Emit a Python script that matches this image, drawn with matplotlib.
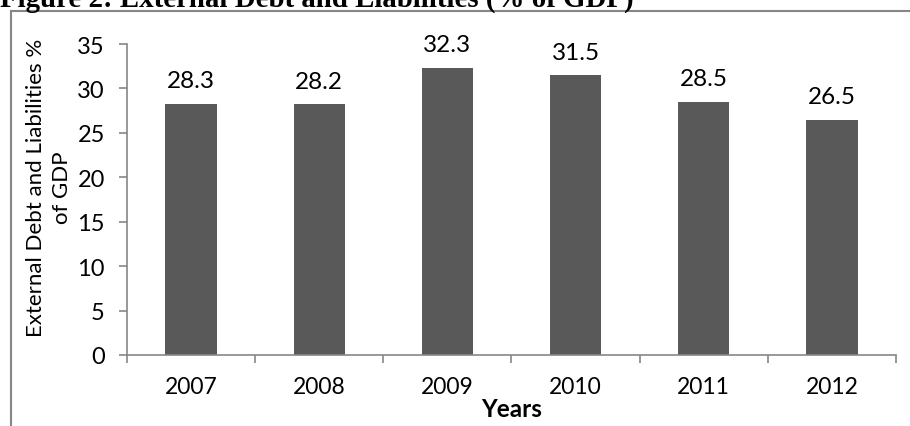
import matplotlib.pyplot as plt
import numpy as np
from matplotlib.lines import Line2D

years = ["2007", "2008", "2009", "2010", "2011", "2012"]
debt_pct_gdp = [28.3, 28.2, 32.3, 31.5, 28.5, 26.5]
y_ticks = [0, 5, 10, 15, 20, 25, 30, 35]

BAR_COLOR = "#595959"
AXIS_COLOR = "#868686"

plt.rcParams["font.family"] = ["Lato", "DejaVu Sans"]

fig = plt.figure(figsize=(9.1, 4.27), dpi=100)
ax = fig.add_axes([127 / 910, 71 / 427, 769 / 910, 311 / 427])

x = np.arange(len(years))
bars = ax.bar(x, debt_pct_gdp, width=0.4, color=BAR_COLOR, zorder=2)

for rect, val in zip(bars, debt_pct_gdp):
    ax.annotate(f"{val:.1f}", (rect.get_x() + rect.get_width() / 2, val),
                xytext=(0, 9), textcoords="offset points",
                ha="center", va="bottom", fontsize=17.5, color="black")

ax.set_xlim(-0.5, len(years) - 0.5)
ax.set_ylim(0, 35)
ax.set_yticks(y_ticks)
ax.set_xticks(x)
ax.set_xticklabels(years)
ax.set_xticks(np.arange(-0.5, len(years)), minor=True)
ax.tick_params(axis="x", which="major", length=0, labelsize=16.5, pad=15)
ax.tick_params(axis="x", which="minor", length=6, width=1.2, color=AXIS_COLOR)
ax.tick_params(axis="y", length=6, width=1.2, color=AXIS_COLOR, labelsize=17, pad=10)

for side in ("top", "right"):
    ax.spines[side].set_visible(False)
for side in ("left", "bottom"):
    ax.spines[side].set_color(AXIS_COLOR)
    ax.spines[side].set_linewidth(1.2)

ax.set_ylabel("External Debt and Liabilities %\nof GDP", fontsize=16, linespacing=1.35)
ax.yaxis.set_label_coords(-0.072, 0.54)
ax.set_xlabel("Years", fontsize=17.5, fontweight="bold", labelpad=0)

# outer frame of the chart area (only left and top edges fall inside the image)
fig.add_artist(Line2D([11 / 910, 11 / 910], [0, 1 - 12 / 427], color=AXIS_COLOR,
                      lw=1.5, transform=fig.transFigure))
fig.add_artist(Line2D([11 / 910, 1], [1 - 12 / 427, 1 - 12 / 427], color=AXIS_COLOR,
                      lw=1.5, transform=fig.transFigure))

fig.text(0.0, 1 - 7 / 427, "Figure 2: External Debt and Liabilities (% of GDP)",
         family="Liberation Serif", fontweight="bold", fontsize=20.8,
         ha="left", va="baseline")

fig.savefig("out.png", dpi=100)
